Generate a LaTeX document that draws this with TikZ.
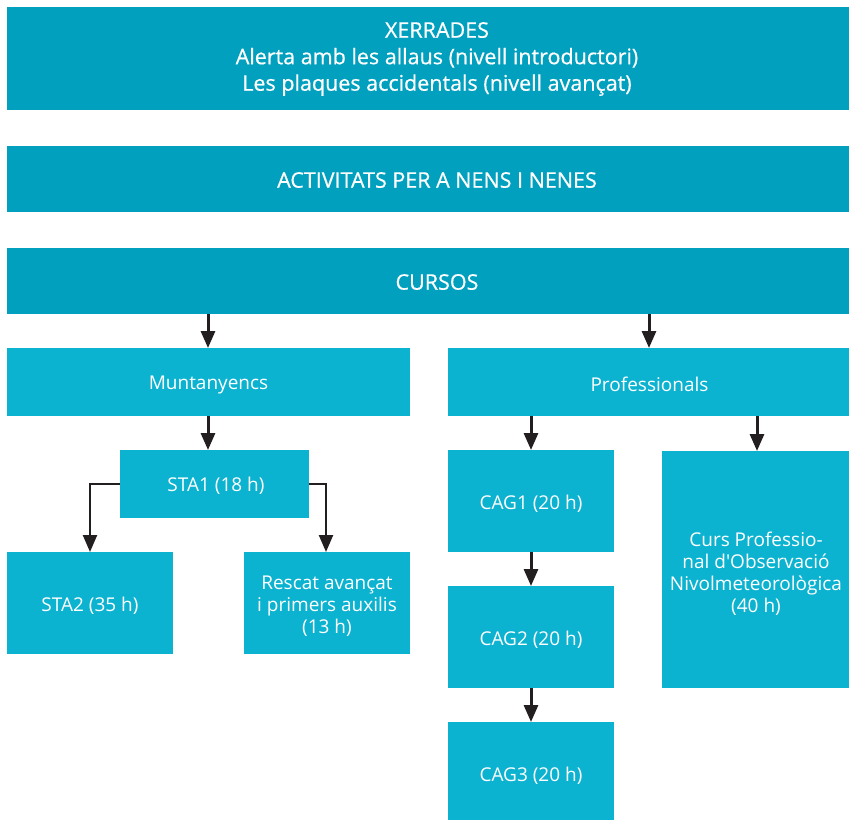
\documentclass[tikz,border=0pt]{standalone}
\usepackage{fontspec}
\setmainfont{Open Sans}
\newfontfamily\topfont{Open Sans}[FakeBold=0.6]
\usetikzlibrary{arrows.meta}
\definecolor{darkbox}{RGB}{0,160,190}
\definecolor{lightbox}{RGB}{12,179,208}
\definecolor{arrowc}{RGB}{35,31,32}
\begin{document}
\begin{tikzpicture}[x=1pt,y=-1pt,
  boxd/.style={fill=darkbox,draw=none,text=white,align=center,font=\topfont\fontsize{21.5}{26.5}\selectfont},
  boxl/.style={fill=lightbox,draw=none,text=white,align=center,font=\fontsize{19}{22}\selectfont},
  conn/.style={draw=arrowc,line width=3pt,-{Triangle[length=17pt,width=14pt]}},
  connel/.style={conn,line width=2.3pt}]
\useasboundingbox (0,0) rectangle (849,820);
\path[boxd] (7,7) rectangle (849,110);
\node[boxd,fill=none,inner sep=0] (xer) at (437,59) {XERRADES\\Alerta amb les allaus (nivell introductori)\\Les plaques accidentals (nivell avançat)};
\path[boxd] (7,146) rectangle (849,212);
\node[boxd,fill=none,inner sep=0] (act) at (437,180) {ACTIVITATS PER A NENS I NENES};
\path[boxd] (7,248) rectangle (849,314);
\coordinate (curL) at (208,314);
\coordinate (curR) at (649,314);
\node[boxd,fill=none,inner sep=0] (cur) at (437,282) {CURSOS};
% second level
\path[boxl] (7,348) rectangle (410,416);
\node[boxl,fill=none,inner sep=0] (mun) at (208.5,385) {Muntanyencs};
\coordinate (munT) at (208,348);
\coordinate (munB) at (208,416);
\path[boxl] (448,348) rectangle (849,416);
\node[boxl,fill=none,inner sep=0] (pro) at (649.5,384) {Professionals};
\coordinate (proT) at (649,348);
\coordinate (proBL) at (531,416);
\coordinate (proBR) at (757,416);
% STA1
\path[boxl] (120,450) rectangle (309,518);
\node[boxl,fill=none,inner sep=0] (sta1) at (216,486) {STA1 (18 h)};
\coordinate (sta1T) at (208,450);
\coordinate (sta1L) at (120,484);
\coordinate (sta1R) at (309,484);
% STA2 and Rescat
\path[boxl] (7,552) rectangle (173,654);
\node[boxl,fill=none,inner sep=0] (sta2) at (90,606) {STA2 (35 h)};
\coordinate (sta2T) at (90,552);
\path[boxl] (244,552) rectangle (410,654);
\node[boxl,fill=none,inner sep=0] (res) at (327,606) {Rescat avançat\\i primers auxilis\\(13 h)};
\coordinate (resT) at (326,552);
% CAG
\path[boxl] (448,450) rectangle (614,552);
\node[boxl,fill=none,inner sep=0] (cag1) at (531,504) {CAG1 (20 h)};
\coordinate (cag1T) at (531,450);
\coordinate (cag1B) at (531,552);
\path[boxl] (448,586) rectangle (614,688);
\node[boxl,fill=none,inner sep=0] (cag2) at (531,640) {CAG2 (20 h)};
\coordinate (cag2T) at (531,586);
\coordinate (cag2B) at (531,688);
\path[boxl] (448,722) rectangle (614,820);
\node[boxl,fill=none,inner sep=0] (cag3) at (531,776) {CAG3 (20 h)};
\coordinate (cag3T) at (531,722);
% Curs professional
\path[boxl] (662,451) rectangle (849,688);
\node[boxl,fill=none,inner sep=0] (cpo) at (756,574) {Curs Professio-\\nal d\textquotesingle Observació\\Nivolmeteorològica\\(40 h)};
\coordinate (cpoT) at (757,451);
% connectors
\draw[conn] (curL) -- (munT);
\draw[conn] (curR) -- (proT);
\draw[conn] (munB) -- (sta1T);
\draw[conn] (proBL) -- (cag1T);
\draw[conn] (proBR) -- (cpoT);
\draw[connel] (sta1L) -| (sta2T);
\draw[connel] (sta1R) -| (resT);
\draw[conn] (cag1B) -- (cag2T);
\draw[conn] (cag2B) -- (cag3T);
\end{tikzpicture}
\end{document}
